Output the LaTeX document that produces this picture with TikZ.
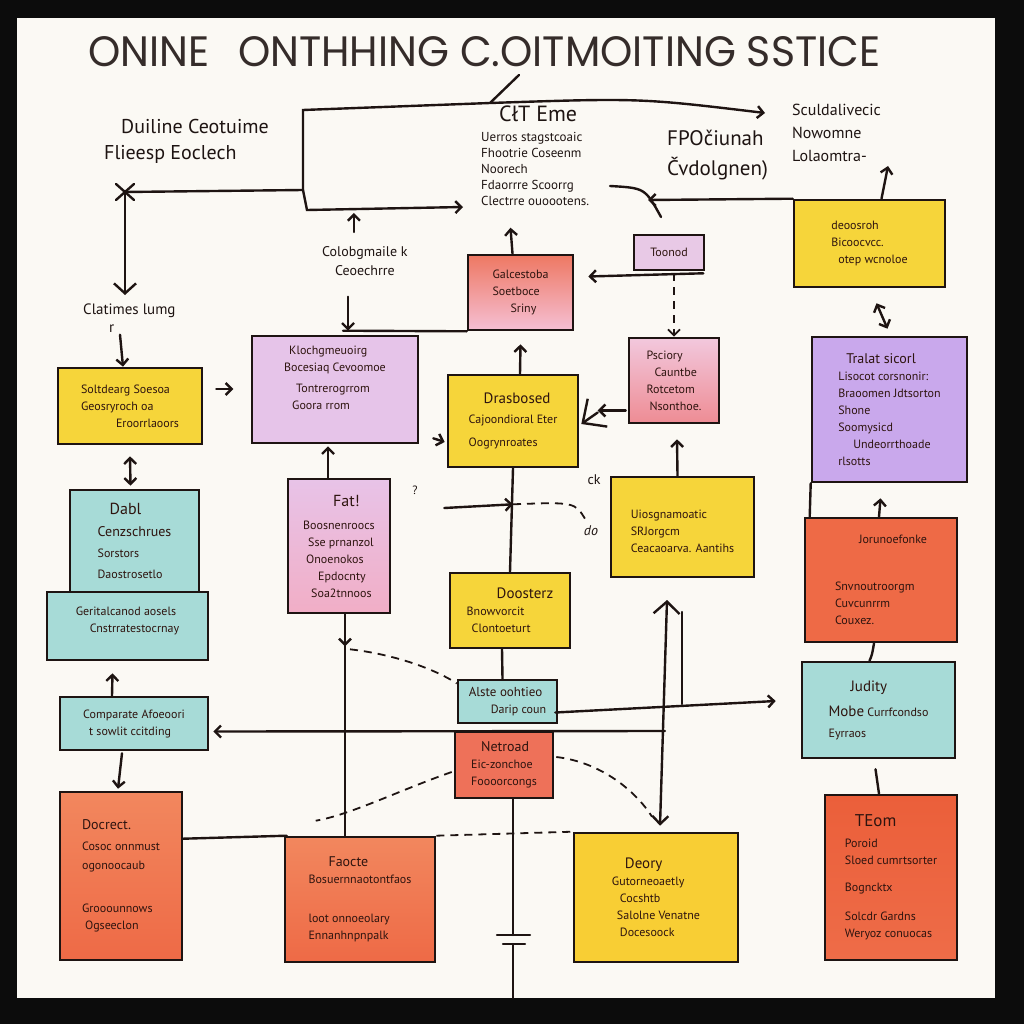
\documentclass[tikz,border=0pt]{standalone}
\usepackage{fontspec}
\usepackage{graphicx}
\setmainfont{PT Sans}
\newfontfamily\titlefont{Poppins}
\usetikzlibrary{arrows.meta,calc}

\definecolor{frame}{HTML}{0C0C0C}
\definecolor{paper}{HTML}{FBF9F4}
\definecolor{ink}{HTML}{1E1412}
\definecolor{pen}{HTML}{2E140F}
\definecolor{postyellow}{HTML}{F6D53A}
\definecolor{postteal}{HTML}{A7DBD7}
\definecolor{postlilac}{HTML}{E6C4E9}
\definecolor{postpurple}{HTML}{C9A8EC}
\definecolor{postorange}{HTML}{EE6A46}
\definecolor{orangetop}{HTML}{F2875E}
\definecolor{fattop}{HTML}{E8C3E8}
\definecolor{fatbot}{HTML}{F1AEC6}
\definecolor{galctop}{HTML}{EE7863}
\definecolor{galcbot}{HTML}{F5BFD3}
\definecolor{psctop}{HTML}{F2C8DD}
\definecolor{pscbot}{HTML}{EE8C94}
\definecolor{toonfill}{HTML}{E8C9E6}
\definecolor{netfill}{HTML}{EE7159}
\definecolor{deoryfill}{HTML}{F8CE34}
\definecolor{teomtop}{HTML}{EB5F3A}
\definecolor{teombot}{HTML}{EE6C48}

\tikzset{
  post/.style={rectangle, draw=ink, line width=2.6pt, inner sep=0pt, align=left,
    text=pen, font=\fontsize{12}{17}\selectfont},
  ypost/.style={post, fill=postyellow},
  tpost/.style={post, fill=postteal},
  sz/.style 2 args={minimum width=#1pt, minimum height=#2pt},
  lbl/.style={inner sep=0pt, align=left, text=ink},
  wire/.style={draw=ink, line width=2.4pt, line cap=round},
  arr/.style={wire, -{Straight Barb[length=6pt,width=12pt]}},
  dblarr/.style={wire, {Straight Barb[length=6pt,width=12pt]}-{Straight Barb[length=6pt,width=12pt]}},
  bigarr/.style={wire, -{Straight Barb[length=18pt,width=34pt]}},
  dashwire/.style={draw=ink, line width=1.8pt, dash pattern=on 8pt off 6pt},
}

\begin{document}
\begin{tikzpicture}[x=1pt,y=-1pt]
        \fill[frame] (0,0) rectangle (1024,1024);
        \fill[paper] (17,18) rectangle (995,998);
        \useasboundingbox (0,0) rectangle (1024,1024);

        \node[lbl, anchor=south west, text=ink!90] (title) at (88,67) {\resizebox{792pt}{30pt}{\titlefont ONINE\hspace{0.7em}ONTHHING C.OITMOITING SSTICE}};

        \node[lbl, anchor=north west, font=\fontsize{20}{26}\selectfont] (dui) at (104,119) {\hspace*{17pt}Duiline Ceotuime\\Flieesp Eoclech};
        \node[lbl, anchor=north west, font=\fontsize{13}{16}\selectfont] (cit) at (481,106) {\hspace*{18pt}{\fontsize{22}{22}\selectfont C\l T Eme}\\[4pt]Uerros stagstcoaic\\Fhootrie Coseenm\\Noorech\\Fdaorrre Scoorrg\\Clectrre ouoootens.};
        \node[lbl, anchor=north west, font=\fontsize{21}{30}\selectfont] (fpo) at (667,130) {FPOčiunah\\Čvdolgnen)};
        \node[lbl, anchor=north west, font=\fontsize{16}{23}\selectfont] (scu) at (792,104) {Sculdalivecic\\Nowomne\\Lolaomtra-};
        \node[lbl, anchor=north west, font=\fontsize{14}{19}\selectfont] (colo) at (322,246) {Colobgmaile k\\\hspace*{13pt}Ceoechrre};
        \node[lbl, anchor=north west, font=\fontsize{15}{18}\selectfont] (clat) at (83,304) {Clatimes lumg\\\hspace*{26pt}r};
        \node[lbl, font=\fontsize{14}{14}\selectfont] (ck) at (594,480) {ck};
        \node[lbl, font=\fontsize{14}{14}\selectfont] (dok) at (591,531) {\textit{do}};
        \node[lbl, font=\fontsize{12}{12}\selectfont] (qm) at (415,490) {?};

        \node[ypost, sz={144}{76}] (solt) at (130,406) {Soltdearg Soesoa\\Geosryroch oa\\\hspace*{35pt}Eroorrlaoors};
        \node[tpost, sz={129}{102}] (dabl) at (134.5,541) {\hspace*{12pt}{\fontsize{16}{17}\selectfont Dabl}\\[5pt]{\fontsize{14}{17}\selectfont Cenzschrues}\\[4pt]Sorstors\\[4pt]Daostrosetlo};
        \node[tpost, sz={161}{68}] (gerit) at (127.5,626) {Geritalcanod aosels\\\hspace*{14pt}Cnstrratestocrnay\\[-4pt]\mbox{}};
        \node[tpost, sz={148}{53}] (comp) at (134,723.5) {Comparate Afoeoori\\\hspace*{6pt}t sowlit ccitding};
        \node[post, sz={122}{168}, top color=orangetop, bottom color=postorange] (docr) at (121,876) {{\fontsize{14}{17}\selectfont Docrect.}\\[4pt]Cosoc onnmust\\[2pt]ogonoocaub\\[26pt]Grooounnows\\\hspace*{3pt}Ogseeclon};

        \node[post, sz={166}{107}, fill=postlilac] (kloc) at (335,389.5) {\hspace*{5pt}Klochgmeuoirg\\Bocesiaq Cevoomoe\\[4pt]\hspace*{12pt}Tontrerogrrom\\\hspace*{8pt}Goora rrom\\[6pt]\mbox{}};
        \node[post, sz={102}{134}, top color=fattop, bottom color=fatbot] (fat) at (339,546) {\hspace*{30pt}{\fontsize{16}{17}\selectfont Fat!}\\[6pt]Boosnenroocs\\\hspace*{5pt}Sse prnanzol\\\hspace*{3pt}Onoenokos\\\hspace*{15pt}Epdocnty\\\hspace*{8pt}Soa2tnnoos};
        \node[post, sz={105}{75}, top color=galctop, bottom color=galcbot] (galc) at (520.5,292.5) {Galcestoba\\Soetboce\\\hspace*{18pt}Sriny};
        \node[ypost, sz={130}{92}] (dras) at (513,421) {\hspace*{15pt}{\fontsize{15}{17}\selectfont Drasbosed}\\[3pt]Cajoondioral Eter\\[6pt]Oogrynroates};
        \node[post, sz={70}{35}, fill=toonfill] (toon) at (669,252.5) {Toonod};
        \node[post, sz={90}{85}, top color=psctop, bottom color=pscbot] (psc) at (674,380.5) {Psciory\\\hspace*{8pt}Cauntbe\\Rotcetom\\\hspace*{3pt}Nsonthoe.};
        \node[ypost, sz={143}{100}] (uios) at (682.5,527) {\mbox{}\\Uiosgnamoatic\\SRJorgcm\\Ceacaoarva. Aantihs};
        \node[ypost, sz={120}{75}] (doos) at (510,610.5) {\hspace*{30pt}{\fontsize{15}{17}\selectfont Doosterz}\\Bnowvorcit\\\hspace*{5pt}Clontoeturt};
        \node[tpost, sz={99}{43}] (alste) at (507.5,701.5) {{\fontsize{13}{15}\selectfont Alste oohtieo}\\\hspace*{22pt}Darip coun};
        \node[post, sz={98}{66}, fill=netfill] (netr) at (504,765) {\hspace*{10pt}{\fontsize{14}{17}\selectfont Netroad}\\Eic-zonchoe\\Foooorcongs};
        \node[post, sz={150}{125}, top color=orangetop, bottom color=postorange] (faoc) at (360,899.5) {\hspace*{20pt}{\fontsize{14}{17}\selectfont Faocte}\\Bosuernnaotontfaos\\[22pt]loot onnoeolary\\Ennanhnpnpalk};
        \node[post, sz={164}{129}, fill=deoryfill] (deory) at (656,897.5) {\hspace*{13pt}{\fontsize{15}{17}\selectfont Deory}\\Gutorneoaetly\\\hspace*{8pt}Cocshtb\\\hspace*{5pt}Salolne Venatne\\\hspace*{8pt}Docesoock};

        \node[ypost, sz={151}{87}] (yright) at (869.5,243.5) {deoosroh\\Bicoocvcc.\\\hspace*{7pt}otep wcnoloe};
        \node[post, sz={155}{145}, fill=postpurple] (tral) at (889.5,409.5) {\hspace*{8pt}{\fontsize{14}{17}\selectfont Tralat sicorl}\\Lisocot corsnonir:\\Braoomen Jdtsorton\\Shone\\Soomysicd\\\hspace*{15pt}Undeorrthoade\\rlsotts};
        \node[post, sz={152}{124}, fill=postorange] (joru) at (881,580) {\hspace*{24pt}Jorunoefonke\\[30pt]Snvnoutroorgm\\Cuvcunrrm\\Couxez.};
        \node[tpost, sz={153}{96}] (judi) at (878.5,710) {\hspace*{22pt}{\fontsize{15}{17}\selectfont Judity}\\[8pt]{\fontsize{15}{17}\selectfont Mobe} Currfcondso\\[4pt]Eyrraos};
        \node[post, sz={132}{165}, top color=teomtop, bottom color=teombot] (teom) at (891,877.5) {\hspace*{10pt}{\fontsize{17}{17}\selectfont TEom}\\[4pt]Poroid\\Sloed cumrtsorter\\[10pt]Bogncktx\\[12pt]Solcdr Gardns\\Weryoz conuocas};

        \coordinate (bk) at (303,190);
        \coordinate (bkx) at (125,192);
        \coordinate (bkdown) at (125,295);
        \coordinate (bktop) at (303,110);
        \coordinate (bkbend) at (490,103);
        \coordinate (bkright) at (765,113);
        \coordinate (bklow) at (463,207);
        \coordinate (tick) at (519,75);
        \coordinate (cross) at (665,731);
        \coordinate (updbl) at (667,600);
        \coordinate (cap) at (513,939);

        \draw[wire] (bk) -- (bkx);
        \draw[wire] ($(bkx)+(-9,-8)$) -- ($(bkx)+(9,8)$);
        \draw[wire] ($(bkx)+(-9,8)$) -- ($(bkx)+(9,-8)$);
        \draw[wire, -{Straight Barb[length=10pt,width=22pt]}] (bkx) -- (bkdown);
        \draw[arr] (bk) -- (bktop) -- (bkbend) .. controls (640,98) .. (bkright);
        \draw[wire] (bkbend) -- (tick);
        \draw[arr] (bk) -- (307,210) -- (bklow);
        \draw[arr] ($(colo.north)+(-11,-14)$) -- ($(colo.north)+(-11,-33)$);

        \draw[arr] (yright.north west) -- (648,200);
        \draw[wire] (610,186) .. controls (645,188) .. (661,217);
        \draw[arr] ($(yright.north)+(12,0)$) -- (888,166);
        \draw[dblarr] ($(yright.south)+(7,15)$) -- ($(tral.north)+(-2,-7)$);

        \draw[arr] ($(toon.south east)+(-2,2)$) -- ($(galc.east)+(14,-16)$);
        \draw[dashwire, -{Straight Barb[length=6pt,width=12pt]}] ($(toon.south)+(5,2)$) -- (psc.north);
        \draw[arr] ($(galc.north)+(-8,0)$) -- ($(galc.north)+(-10,-26)$);
        \draw[arr] ($(kloc.north)+(13,-38)$) -- ($(kloc.north)+(13,-4)$);
        \draw[wire] ($(kloc.north)+(8,-4)$) -- (galc.south west);
        \draw[arr] ($(solt.north)+(-10,-32)$) -- ($(solt.north)+(-7,0)$);
        \draw[arr] ($(solt.east)+(13,-17)$) -- ($(solt.east)+(30,-17)$);
        \draw[arr] ($(kloc.south east)+(14,-6)$) -- ($(dras.west)+(-2,21)$);
        \draw[arr] ($(dras.north)+(7,0)$) -- ($(galc.south)+(0,13)$);
        \draw[arr] ($(psc.west)+(-2,30)$) -- ($(psc.west)+(-30,30)$);
        \draw[bigarr] ($(psc.west)+(-30,32)$) -- ($(dras.east)+(2,3)$);
        \draw[arr] ($(uios.north)+(-5,0)$) -- ($(psc.south)+(3,15)$);
        \draw[wire] (dras.south) -- (doos.north);
        \draw[arr] ($(fat.east)+(53,-38)$) -- ($(dras.south)+(0,36)$);
        \draw[dashwire] ($(dras.south)+(0,36)$) .. controls (575,502) .. ($(uios.west)+(-24,-7)$);
        \draw[arr] ($(fat.north)+(-11,0)$) -- ($(kloc.south)+(-7,2)$);

        \draw[wire] ($(fat.south)+(6,0)$) -- ($(faoc.north)+(-15,0)$);
        \draw[arr] ($(fat.south)+(6,0)$) -- ($(fat.south)+(6,32)$);
        \draw[dashwire] ($(fat.south)+(11,35)$) .. controls (400,655) and (440,672) .. ($(alste.west)+(0,-18)$);
        \draw[wire] ($(doos.south)+(-8,0)$) -- ($(alste.north)+(-5,0)$);
        \draw[arr] ($(alste.east)+(-3,11)$) -- ($(judi.west)+(-25,-9)$);
        \draw[wire, {Straight Barb[length=12pt,width=26pt]}-{Straight Barb[length=8pt,width=16pt]}] (updbl) -- ($(deory.north)+(4,-6)$);
        \draw[wire] (682,612) -- (682,704);
        \draw[arr] (cross) -- ($(comp.east)+(4,8)$);
        \draw[dashwire] ($(netr.west)+(-2,7)$) .. controls (400,790) and (350,815) .. ($(faoc.north west)+(32,-15)$);
        \draw[dashwire] ($(netr.east)+(2,-8)$) .. controls (600,762) and (635,790) .. ($(deory.north)+(-4,-15)$);
        \draw[wire] ($(netr.south)+(9,0)$) -- ($(cap)+(0,-4)$);
        \draw[wire] ($(cap)+(-16,-4)$) -- ($(cap)+(17,-4)$);
        \draw[wire] ($(cap)+(-10,5)$) -- ($(cap)+(12,5)$);
        \draw[wire] ($(cap)+(0,5)$) -- (513,998);
        \draw[wire] ($(docr.north east)+(0,48)$) -- ($(faoc.north west)+(3,0)$);
        \draw[dashwire] (faoc.north east) -- (deory.north west);

        \draw[arr] ($(comp.north)+(-22,0)$) -- ($(gerit.south)+(-15,12)$);
        \draw[arr] ($(comp.south)+(-12,2)$) -- ($(docr.north)+(-3,-2)$);
        \draw[dblarr] ($(solt.south)+(0,11)$) -- ($(dabl.north)+(-4,-3)$);

        \draw[wire] (tral.south west) -- ($(joru.north west)+(6,0)$);
        \draw[arr] ($(joru.north)+(-2,0)$) -- ($(tral.south)+(-9,15)$);
        \draw[wire] ($(joru.south)+(-7,0)$) .. controls (872,655) .. ($(judi.north)+(-9,0)$);
        \draw[wire] ($(teom.north)+(-12,0)$) -- ($(judi.south)+(-3,10)$);
\end{tikzpicture}
\end{document}
